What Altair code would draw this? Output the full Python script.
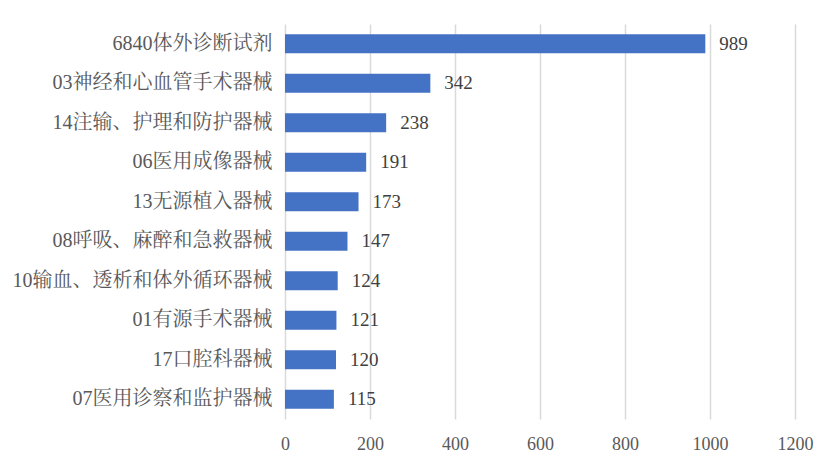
import altair as alt
import pandas as pd

categories = [
    "6840体外诊断试剂",
    "03神经和心血管手术器械",
    "14注输、护理和防护器械",
    "06医用成像器械",
    "13无源植入器械",
    "08呼吸、麻醉和急救器械",
    "10输血、透析和体外循环器械",
    "01有源手术器械",
    "17口腔科器械",
    "07医用诊察和监护器械",
]
values = [989, 342, 238, 191, 173, 147, 124, 121, 120, 115]
x_ticks = [0, 200, 400, 600, 800, 1000, 1200]

df = pd.DataFrame({"cat": categories, "val": values})

FONT = "Liberation Serif, Times New Roman, Noto Serif CJK SC, Noto Sans CJK SC, serif"

y = alt.Y("cat:N", sort=categories, title=None,
          scale=alt.Scale(paddingInner=0.52, paddingOuter=0.26),
          axis=alt.Axis(labelFont=FONT, labelFontSize=20, labelColor="#595959",
                        labelPadding=13, ticks=False, domain=False, grid=False,
                        labelLimit=400))
x = alt.X("val:Q", title=None,
          scale=alt.Scale(domain=[0, 1200], nice=False),
          axis=alt.Axis(values=x_ticks, format="d", labelFont=FONT, labelFontSize=18,
                        labelColor="#595959", labelPadding=16, ticks=False,
                        labelFlush=False, labelOverlap=False,
                        domain=False, grid=True, gridColor="#d9d9d9",
                        gridWidth=1.5))

bars = alt.Chart(df).mark_bar(color="#4472C4").encode(x=x, y=y)
labels = alt.Chart(df).mark_text(align="left", baseline="middle", dx=14,
                                 font=FONT, fontSize=19, color="#404040").encode(
    x="val:Q", y=alt.Y("cat:N", sort=categories), text="val:Q")

chart = (bars + labels).properties(
    width=510, height=395,
    autosize=alt.AutoSizeParams(type="none"),
    padding={"left": 277, "top": 16, "right": 20, "bottom": 40},
).configure_view(stroke=None)

chart.save("out.html", embed_options={"renderer": "svg", "actions": False})
